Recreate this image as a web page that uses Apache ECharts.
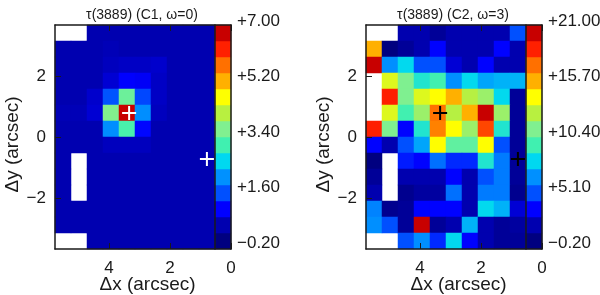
<!DOCTYPE html>
<html><head><meta charset="utf-8">
<style>html,body{margin:0;padding:0;background:#fff}#c{width:600px;height:295px}</style>
<script src="https://cdn.jsdelivr.net/npm/echarts@6/dist/echarts.min.js"></script>
</head><body><div id="c"></div>
<script>
var colors=['#000080','#0000b0','#0000ff','#0050ff','#0090ff','#00d8f0','#40f0b0','#80f090','#b8f040','#ffff00','#ffb000','#ff7000','#ff2000','#c80000'];
var _=null;
var tauC1=[
[_,_,.35,.35,.35,.35,.35,.35,.35,.35],
[.35,.35,.35,.4,.35,.35,.35,.35,.35,.35],
[.35,.35,.35,.45,.5,.5,.55,.35,.35,.35],
[.35,.35,.35,.6,.9,.85,.5,.35,.35,.35],
[.35,.35,.55,1.5,3.5,1.4,.5,.35,.35,.35],
[.4,.4,.6,3.7,7,2,.45,.35,.35,.35],
[.35,.35,.35,2,3.2,.95,.35,.35,.35,.35],
[.35,.35,.35,.45,.45,.45,.35,.35,.35,.35],
[.35,_,.35,.35,.35,.35,.35,.35,.35,.35],
[.35,_,.35,.35,.35,.35,.35,.35,.35,.35],
[.35,_,.35,.35,.35,.35,.35,.35,.35,.35],
[.35,.35,.35,.35,.35,.35,.35,.35,.35,.35],
[.35,.35,.35,.35,.35,.35,.35,.35,.35,.35],
[_,_,.35,.35,.35,.35,.35,.35,.35,.35]];
var tauC2=[
[_,_,1.4,1.4,.6,1.4,1.4,1.4,1.4,4.7],
[16.1,-.2,.6,1.4,3.1,1.4,1.4,1.4,3.1,1.4],
[21,6.3,8,4.7,4.7,2.2,1.4,3.1,1.4,1.4],
[_,13.7,11.2,8.8,9.6,6.3,8,6.8,7.1,7.1],
[_,19.4,11.2,13.7,14.5,16.1,12.8,12,8,.6],
[_,13.7,9.6,12,17.7,12.8,16.1,21,12,.6],
[19.4,11.2,3.1,8.8,17.3,14.5,12,18.6,8.8,.6],
[3.1,1.4,4.7,6.8,14.5,10.4,10.4,14.5,4.7,.6],
[-.2,_,3.6,3.1,5.5,3.9,3.9,8.8,5.8,.6],
[.6,_,1.4,1.4,1.4,3.1,1.4,4.7,5.8,.6],
[1.4,_,.3,.9,.9,5.5,1.4,5.8,5.8,.3],
[6,.3,.6,3.1,3.1,3.1,1.4,8,7.1,2.2],
[6.3,4.7,.6,21,.6,1.4,7.1,1.4,.6,.9],
[_,_,4.7,6.3,3.9,8,3.1,1.4,.6,.6]];
var barC1=[-.2,.35,.91,1.46,2.02,2.57,3.12,3.68,4.23,4.78,5.34,5.89,6.45,7];
var barC2=[-.2,1.43,3.06,4.69,6.32,7.95,9.58,11.22,12.85,14.48,16.11,17.74,19.37,21];
var labelsC1=['−0.20','+1.60','+3.40','+5.20','+7.00'];
var labelsC2=['−0.20','+5.10','+10.40','+15.70','+21.00'];
var xTicks=[0,2,4];
var yTicks=[-2,0,2];
var crosses=[[3.34,0.79],[0.79,-0.72]];
var colIdx=['0','1','2','3','4','5','6','7','8','9'];
var rowIdx=['0','1','2','3','4','5','6','7','8','9','10','11','12','13'];

var FONT='"Liberation Sans",Arial,sans-serif', INK='#1a1a1a';
var grids=[],xAxes=[],yAxes=[],series=[],visualMaps=[],titles=[];
function mono(a){var o=[];a.forEach(function(r,i){r.forEach(function(v,j){if(v!==null)o.push([j,i,v]);});});return o;}
function panel(dx,title,rows,bar,labels,crossColor,yName){
  var g=grids.length;
  var G={outerBoundsMode:'none',containLabel:false};
  grids.push(Object.assign({left:55+dx,top:25,width:160,height:224},G));   // map (whole-pixel cells)
  grids.push(Object.assign({left:215+dx,top:25,width:16,height:224},G));   // colour bar
  grids.push(Object.assign({left:55+dx,top:25,width:176,height:224},G));   // value axes
  grids.push(Object.assign({left:215+dx,top:21,width:16,height:222},G));   // colour bar labels
  var hide={show:false};
  var xi=xAxes.length, yi=yAxes.length;
  xAxes.push({gridIndex:g,type:'category',data:colIdx,show:false});
  yAxes.push({gridIndex:g,type:'category',data:rowIdx,inverse:true,show:false});
  xAxes.push({gridIndex:g+1,type:'category',data:['0'],show:false});
  yAxes.push({gridIndex:g+1,type:'category',data:rowIdx,z:6,axisLine:{show:true,lineStyle:{color:INK,width:1.5}},axisTick:hide,axisLabel:hide});
  var line={show:true,onZero:false,lineStyle:{color:INK,width:1.5}};
  var tick=function(v){return {show:true,inside:true,length:6,customValues:v,lineStyle:{color:INK,width:1}};};
  var txt={fontFamily:FONT,fontSize:17,color:INK};
  var nameTxt={fontFamily:FONT,fontSize:19,color:INK};
  xAxes.push({gridIndex:g+2,type:'value',position:'bottom',inverse:true,min:0,max:5.77,z:6,splitLine:hide,
    axisLine:line,axisTick:tick(xTicks),
    axisLabel:Object.assign({customValues:xTicks,margin:11},txt),
    name:'Δx (arcsec)',nameLocation:'middle',nameGap:26,nameMoveOverlap:false,nameTextStyle:Object.assign({padding:[0,0,0,9]},nameTxt)});
  xAxes.push({gridIndex:g+2,type:'value',position:'top',inverse:true,min:0,max:5.77,z:6,splitLine:hide,
    axisLine:line,axisTick:tick(xTicks),axisLabel:hide});
  yAxes.push({gridIndex:g+2,type:'value',position:'left',min:-3.672,max:3.672,z:6,splitLine:hide,
    axisLine:line,axisTick:tick(yTicks),
    axisLabel:Object.assign({customValues:yTicks,margin:9,formatter:function(v){return String(v).replace('-','−');}},txt),
    name:yName,nameLocation:'middle',nameRotate:90,nameGap:33,nameTextStyle:Object.assign({padding:[0,15,0,0]},nameTxt)});
  yAxes.push({gridIndex:g+2,type:'value',position:'right',min:-3.672,max:3.672,z:6,splitLine:hide,
    axisLine:line,axisTick:hide,axisLabel:hide});
  xAxes.push({gridIndex:g+3,type:'category',data:['0'],show:false});
  yAxes.push({gridIndex:g+3,type:'category',position:'right',data:labels,boundaryGap:false,
    axisLine:hide,axisTick:hide,axisLabel:Object.assign({margin:6,interval:0},txt)});
  var si=series.length;
  series.push({type:'heatmap',xAxisIndex:xi,yAxisIndex:yi,data:mono(rows),silent:true,progressive:0});
  series.push({type:'heatmap',xAxisIndex:xi+1,yAxisIndex:yi+1,data:bar.map(function(v,i){return [0,i,v];}),silent:true,progressive:0});
  series.push({type:'scatter',xAxisIndex:xi+2,yAxisIndex:yi+2,data:crosses,silent:true,z:8,symbolSize:14,
    symbol:'path://M6 0H8V6H14V8H8V14H6V8H0V6H6Z',itemStyle:{color:crossColor,opacity:1}});
  visualMaps.push({show:false,type:'continuous',seriesIndex:[si,si+1],min:bar[0],max:bar[bar.length-1],inRange:{color:colors,colorAlpha:1}});
  titles.push({text:title,left:137+dx,top:3,textAlign:'center',textStyle:{fontFamily:FONT,fontSize:14,fontWeight:'normal',color:INK}});
}
panel(0,'τ(3889) (C1, ω=0)',tauC1,barC1,labelsC1,'#ffffff','Δy (arcsec)');
panel(311,'τ(3889) (C2, ω=3)',tauC2,barC2,labelsC2,'#000000','Δy (arcsec)');
var chart=echarts.init(document.getElementById('c'),null,{renderer:'canvas',width:600,height:295});
chart.setOption({animation:false,backgroundColor:'#fff',title:titles,grid:grids,xAxis:xAxes,yAxis:yAxes,visualMap:visualMaps,series:series});
</script></body></html>
